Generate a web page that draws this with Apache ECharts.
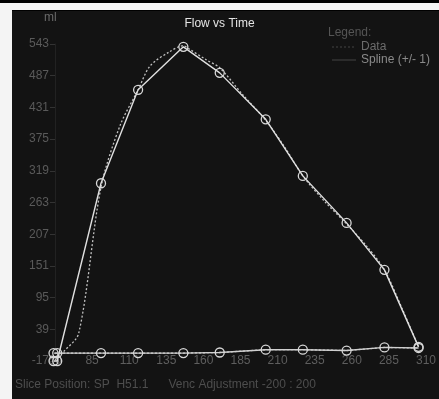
<!DOCTYPE html>
<html><head><meta charset="utf-8">
<script src="https://cdn.jsdelivr.net/npm/echarts@6/dist/echarts.min.js"></script>
<style>
html,body{margin:0;padding:0;background:#000;}
#wrap{position:relative;width:439px;height:399px;background:#000;overflow:hidden;}
#top{position:absolute;left:0;top:3px;width:439px;height:7px;background:#f4f4f4;}
#left{position:absolute;left:0;top:3px;width:12px;height:396px;background:#f4f4f4;}
#panel{position:absolute;left:12px;top:11px;width:427px;height:388px;background:#131313;}
#c{position:absolute;left:0;top:0;width:439px;height:399px;}
</style>
</head><body>
<div id="wrap"><div id="top"></div><div id="left"></div><div id="panel"></div><div id="c"></div></div>
<script>
// Spline (circles)
const splineTimes = [59, 61.5, 91, 116, 146.5, 171, 202, 227, 256.5, 282, 305];
const splineUpper = [-17, -17, 297, 462, 538, 492, 410, 310, 227, 144, 8];
const splineLower = [-3, -3, -3, -3, -3, -2, 3, 3, 1.5, 7, 6];
// Raw data (dotted)
const dataTimes = [60, 66, 76, 91, 104, 116, 124, 137, 146.5, 150.5, 162, 171, 186, 202, 215, 227, 242, 256.5, 270, 282, 294, 305];
const dataUpper = [-15, 0, 32, 290, 400, 462, 504, 529, 540, 534, 515, 501, 455, 408, 360, 310, 264, 225, 186, 144, 75, 8];
const dataLowerTimes = [60, 91, 116, 146.5, 171, 202, 227, 256.5, 282, 305];
const dataLower = [-3, -3, -3, -3, -2, 3, 3, 1.5, 7, 6];
// Axis
const xTicks = [60, 85, 110, 135, 160, 185, 210, 235, 260, 285, 310];
const yTicks = [-17, 39, 95, 151, 207, 263, 319, 375, 431, 487, 543];

const zip = (a, b) => a.map((t, i) => [t, b[i]]);
const FONT = 'Liberation Sans';
const chart = echarts.init(document.getElementById('c'), null, {renderer: 'canvas'});
const circleStyle = {color: 'rgba(0,0,0,0)', borderColor: '#d8d8d8', borderWidth: 1.3};
chart.setOption({
  backgroundColor: 'transparent',
  animation: false,
  textStyle: {fontFamily: FONT},
  title: {text: 'Flow vs Time', left: 'center', top: 13,
    textStyle: {color: '#e4e4e4', fontSize: 12, fontWeight: 'normal', fontFamily: FONT}},
  grid: {left: 55, right: 11, top: 44, bottom: 38},
  xAxis: {type: 'value', min: xTicks[0], max: xTicks[xTicks.length - 1], interval: 25,
    axisLine: {show: false}, axisTick: {show: false}, splitLine: {show: false},
    axisLabel: {color: '#5e5e5e', fontSize: 12, margin: -6, fontFamily: FONT}},
  yAxis: {type: 'value', min: yTicks[0], max: yTicks[yTicks.length - 1], interval: 56,
    axisLine: {show: true, lineStyle: {color: '#222'}},
    axisTick: {show: true, length: 5, lineStyle: {color: '#333'}},
    splitLine: {show: false},
    axisLabel: {color: '#5a5a5a', fontSize: 12, margin: 6, fontFamily: FONT}},
  graphic: [
    {type: 'text', left: 44, top: 12, style: {text: 'ml', fill: '#6a6a6a', font: '12px ' + FONT}},
    {type: 'text', left: 328, top: 27, style: {text: 'Legend:', fill: '#555', font: '12px ' + FONT}},
    {type: 'line', shape: {x1: 332, y1: 47, x2: 356, y2: 47}, style: {stroke: '#444', lineWidth: 1, lineDash: [2, 2]}},
    {type: 'text', left: 361, top: 41, style: {text: 'Data', fill: '#6c6c6c', font: '12px ' + FONT}},
    {type: 'line', shape: {x1: 332, y1: 60, x2: 356, y2: 60}, style: {stroke: '#444', lineWidth: 1}},
    {type: 'text', left: 361, top: 54, style: {text: 'Spline (+/- 1)', fill: '#8a8a8a', font: '12px ' + FONT}},
    {type: 'text', left: 15, top: 379, style: {text: 'Slice Position: SP  H51.1      Venc Adjustment -200 : 200', fill: '#4e4e4e', font: '12px ' + FONT}}
  ],
  series: [
    {name: 'Data', type: 'line', data: zip(dataTimes, dataUpper), smooth: 0.3, symbol: 'none', clip: false,
      lineStyle: {color: '#c0c0c0', width: 1.3, type: [2, 2]}},
    {name: 'Data', type: 'line', data: zip(dataLowerTimes, dataLower), symbol: 'none', clip: false,
      lineStyle: {color: '#c0c0c0', width: 1.3, type: [2, 2]}},
    {name: 'Spline (+/- 1)', type: 'line', data: zip(splineTimes, splineUpper), symbol: 'circle', symbolSize: 9, clip: false,
      lineStyle: {color: '#e0e0e0', width: 1.4}, itemStyle: circleStyle},
    {name: 'Spline (+/- 1)', type: 'line', data: zip(splineTimes, splineLower), symbol: 'circle', symbolSize: 9, clip: false,
      lineStyle: {color: '#d0d0d0', width: 1.4}, itemStyle: circleStyle}
  ]
});
</script>
</body></html>
